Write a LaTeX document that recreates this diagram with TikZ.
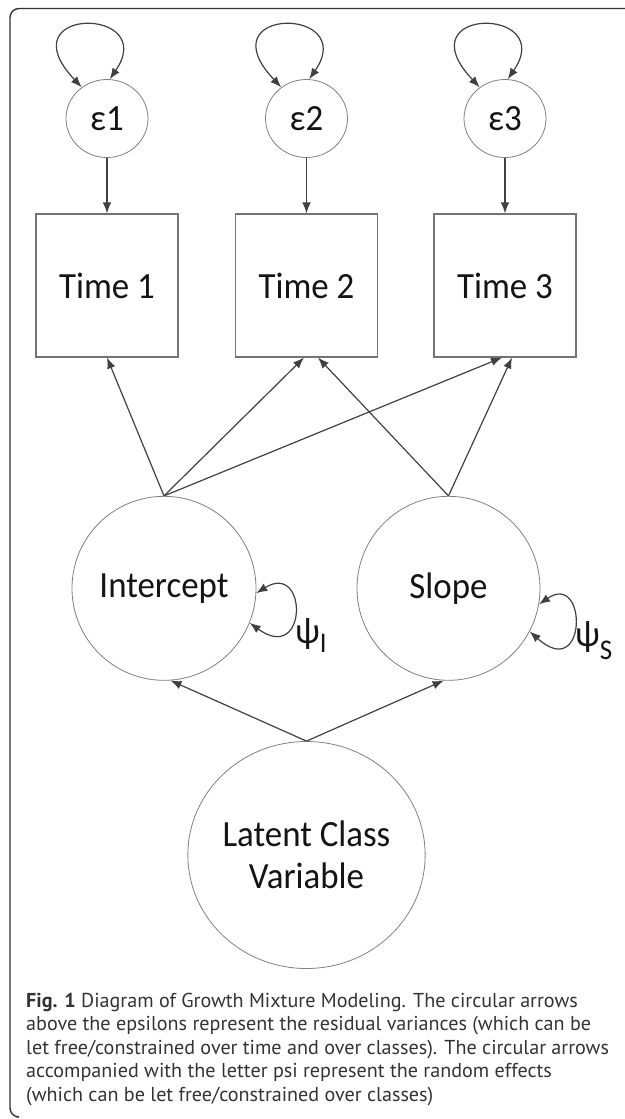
\documentclass[tikz,border=0pt]{standalone}
\usepackage{fontspec}
\usepackage{graphicx}
\setmainfont{Carlito}
\newfontfamily\capfont{PT Sans}
\usetikzlibrary{shapes.geometric,arrows.meta,calc}

% slightly tall lettering inside the diagram
\newcommand{\tallt}[1]{\scalebox{1}[1.06]{#1}}

\definecolor{edgegray}{HTML}{404040}
\definecolor{shapegray}{HTML}{808080}
\definecolor{boxgray}{HTML}{747474}
\definecolor{framegray}{HTML}{333333}

\tikzset{
  latent/.style={ellipse, draw=shapegray, line width=0.8bp, inner sep=0pt, fill=white},
  observed/.style={rectangle, draw=boxgray, line width=1.1bp, inner sep=0pt, fill=white,
                   minimum width=142bp, minimum height=143bp},
  path arrow/.style={draw=edgegray, line width=1.2bp, -{Latex[length=11bp,width=8.5bp]}},
  var arrow/.style={draw=edgegray, line width=1.2bp,
                    {Latex[length=11bp,width=8.5bp]}-{Latex[length=11bp,width=8.5bp]}},
  lab/.style={font=\fontsize{35}{42}\selectfont, text=black!92}
}

\begin{document}
\begin{tikzpicture}[x=1bp, y=1bp]
  \useasboundingbox (0,0) rectangle (625,-1119);

  % open figure frame
  \draw[framegray, line width=1.4bp, rounded corners=9bp]
    (626,-8.5) -- (10,-8.5) -- (10,-1117) -- (16,-1117);

  % residuals
  \node[latent, minimum width=82bp, minimum height=78bp, lab] (e1) at (107,-118.5) {\tallt{ε1}};
  \node[latent, minimum width=82bp, minimum height=78bp, lab] (e2) at (306.5,-118.5) {\tallt{ε2}};
  \node[latent, minimum width=82bp, minimum height=78bp, lab] (e3) at (505,-118.5) {\tallt{ε3}};

  % observed measurements
  \node[observed, lab] (t1) at (107,-285.5) {\tallt{Time 1}};
  \node[observed, lab] (t2) at (306.5,-285.5) {\tallt{Time 2}};
  \node[observed, lab] (t3) at (505,-285.5) {\tallt{Time 3}};

  % growth factors
  \node[latent, minimum width=184bp, minimum height=184bp, lab] (ic) at (164,-588.3) {\tallt{Intercept}};
  \node[latent, minimum width=183bp, minimum height=184bp, lab] (sl) at (448.5,-588.3) {\tallt{Slope}};

  % class variable
  \node[latent, minimum width=227bp, minimum height=227bp, lab, align=center] (lc) at (306.5,-855)
    {\tallt{Latent Class}\\\tallt{Variable}};

  % residual variances
  \foreach \e in {e1,e2,e3}{
    \draw[var arrow] (\e.129) .. controls ($(\e.center)+(-102,112.5)$) and ($(\e.center)+(53,112.5)$) .. (\e.86);
  }

  % residuals to measurements
  \draw[path arrow] (e1.south) -- (t1.north);
  \draw[path arrow] (e2.south) -- (t2.north);
  \draw[path arrow] (e3.south) -- (t3.north);

  % factor loadings
  \draw[path arrow] (ic.north) -- (t1.south);
  \draw[path arrow] (ic.north) -- ($(t2.south)+(-2.5,0)$);
  \draw[path arrow] (ic.north) -- ($(t3.south)+(-3,0)$);
  \draw[path arrow] (sl.north) -- ($(t2.south)+(11.5,0)$);
  \draw[path arrow] (sl.north) -- ($(t3.south)+(7,0)$);

  % random effect variances
  \draw[var arrow] (ic.-3) .. controls ($(ic.center)+(144,27.3)$) and ($(ic.center)+(144,-76.7)$) .. (ic.-22);
  \draw[var arrow] (sl.-10.8) .. controls ($(sl.center)+(139,17.3)$) and ($(sl.center)+(139,-94.7)$) .. (sl.-28.9);
  \node[lab, anchor=base west, inner sep=0pt] (psii) at (295,-643)
    {\tallt{ψ\raisebox{-9bp}{\fontsize{27}{27}\selectfont I}}};
  \node[lab, anchor=base west, inner sep=0pt] (psis) at (575,-646)
    {\tallt{ψ\raisebox{-13bp}{\fontsize{27}{27}\selectfont S}}};

  % class membership effects
  \draw[path arrow] (lc.north) -- (ic.-86);
  \draw[path arrow] (lc.north) -- (sl.-93);

  % caption
  \node[anchor=north west, inner sep=0pt, align=left, text=black!80,
        font=\capfont\fontsize{20.2}{23.6}\selectfont] (cap) at (26,-992.5)
    {\textbf{Fig. 1} Diagram of Growth Mixture Modeling. The circular arrows\\
     above the epsilons represent the residual variances (which can be\\
     let free/constrained over time and over classes). The circular arrows\\
     accompanied with the letter psi represent the random effects\\
     (which can be let free/constrained over classes)};
\end{tikzpicture}
\end{document}
